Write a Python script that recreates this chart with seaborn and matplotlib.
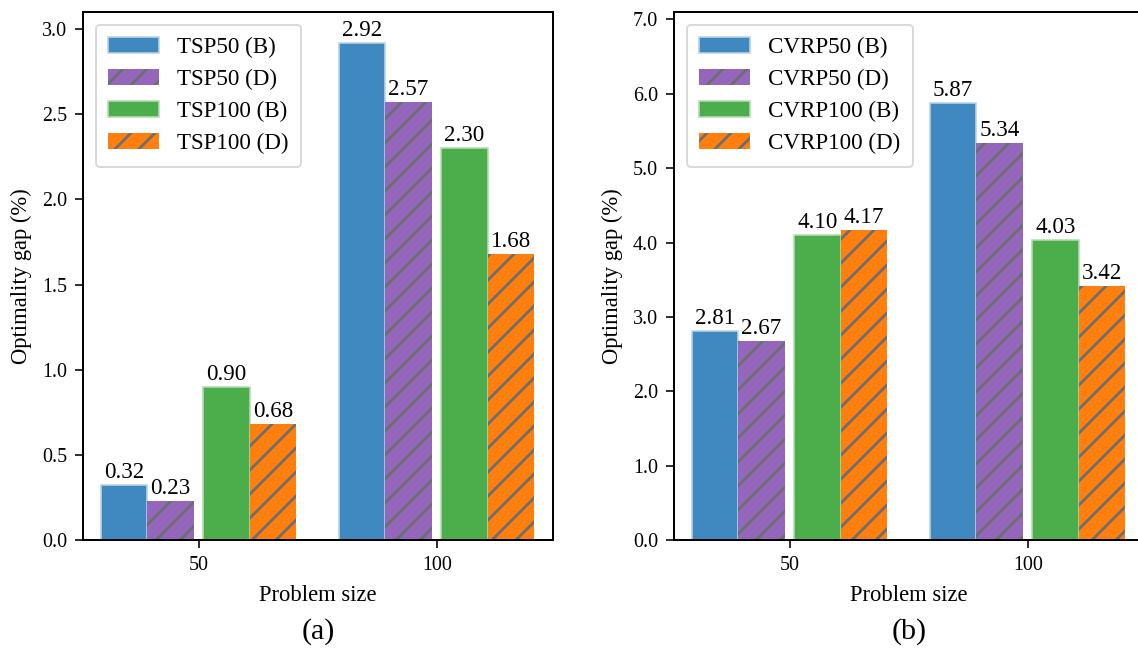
import matplotlib
matplotlib.use("Agg")
import matplotlib.pyplot as plt
import seaborn as sns
import pandas as pd
import numpy as np

# ---- data ----
sizes = ["50", "100"]
tsp_labels = ["TSP50 (B)", "TSP50 (D)", "TSP100 (B)", "TSP100 (D)"]
tsp50_b = [0.32, 2.92]
tsp50_d = [0.23, 2.57]
tsp100_b = [0.90, 2.30]
tsp100_d = [0.68, 1.68]

cvrp_labels = ["CVRP50 (B)", "CVRP50 (D)", "CVRP100 (B)", "CVRP100 (D)"]
cvrp50_b = [2.81, 5.87]
cvrp50_d = [2.67, 5.34]
cvrp100_b = [4.10, 4.03]
cvrp100_d = [4.17, 3.42]

tsp_ticks = [0.0, 0.5, 1.0, 1.5, 2.0, 2.5, 3.0]
cvrp_ticks = [0.0, 1.0, 2.0, 3.0, 4.0, 5.0, 6.0, 7.0]

# ---- style ----
sns.set_theme(style="ticks")
plt.rcParams["font.family"] = ["Liberation Serif", "DejaVu Serif"]
plt.rcParams["hatch.linewidth"] = 1.4
plt.rcParams["axes.linewidth"] = 1.0
plt.rcParams["text.color"] = "black"
plt.rcParams["axes.labelcolor"] = "black"
plt.rcParams["xtick.color"] = "black"
plt.rcParams["ytick.color"] = "black"

DPI = 144
W, H = 1138, 651
fig = plt.figure(figsize=(W / DPI, H / DPI), dpi=DPI)

face = ["#3f89c0", "#9467bd", "#4bae4b", "#ff7f0e"]
edge = ["#b9d3e8", "#6e6e6e", "#b5dcb5", "#6e6e6e"]
hatches = [None, "//", None, "//"]
lws = [0.8, 0, 0.8, 0]
centers = [-0.315, -0.12, 0.115, 0.31]
bw = 0.195


def make_df(labels, series):
    rows = []
    for lab, vals in zip(labels, series):
        for s, v in zip(sizes, vals):
            rows.append({"size": s, "gap": v, "method": lab})
    return pd.DataFrame(rows)


def draw(ax, labels, series, ticks, ylim, tag):
    df = make_df(labels, series)
    sns.barplot(data=df, x="size", y="gap", hue="method", order=sizes,
                hue_order=labels, palette=face, saturation=1, width=0.8,
                errorbar=None, ax=ax, legend=False)
    for i, cont in enumerate(ax.containers):
        for p in cont.patches:
            gx = round(p.get_x() + p.get_width() / 2)
            p.set_width(bw)
            p.set_x(gx + centers[i] - bw / 2)
            p.set_facecolor(face[i])
            p.set_edgecolor(edge[i])
            p.set_linewidth(lws[i])
            if hatches[i]:
                p.set_hatch(hatches[i])
        ax.bar_label(cont, fmt="%.2f", padding=1, fontsize=11.5, color="black")
    ax.set_xlim(-0.487, 1.487)
    ax.set_ylim(*ylim)
    ax.set_yticks(ticks)
    ax.set_yticklabels([f"{t:.1f}" for t in ticks])
    ax.tick_params(axis="both", labelsize=10, length=4, width=0.8, pad=4,
                   color="black", labelcolor="black")
    for s in ax.spines.values():
        s.set_color("black")
        s.set_linewidth(1.0)
    ax.set_xlabel("Problem size", fontsize=11.3, color="black", labelpad=5)
    ax.set_ylabel("Optimality gap (%)", fontsize=11.3, color="black", labelpad=5)
    ax.legend(ax.containers, labels, loc="upper left", fontsize=11.5,
              handlelength=2.2, handletextpad=0.8, labelspacing=0.47,
              borderpad=0.55, borderaxespad=0.55, frameon=True, fancybox=True,
              framealpha=0.8, edgecolor="#d0d0d0")
    ax.text(0.5, -(632 - 540) / 528, tag, transform=ax.transAxes, ha="center",
            va="center", fontsize=15, color="black")


ax1 = fig.add_axes([83 / W, (H - 540) / H, 470 / W, 528 / H])
ax2 = fig.add_axes([674 / W, (H - 540) / H, 470 / W, 528 / H])

draw(ax1, tsp_labels, [tsp50_b, tsp50_d, tsp100_b, tsp100_d], tsp_ticks, (0, 3.1), "(a)")
draw(ax2, cvrp_labels, [cvrp50_b, cvrp50_d, cvrp100_b, cvrp100_d], cvrp_ticks, (0, 7.1), "(b)")

fig.savefig("out.png", dpi=DPI)
